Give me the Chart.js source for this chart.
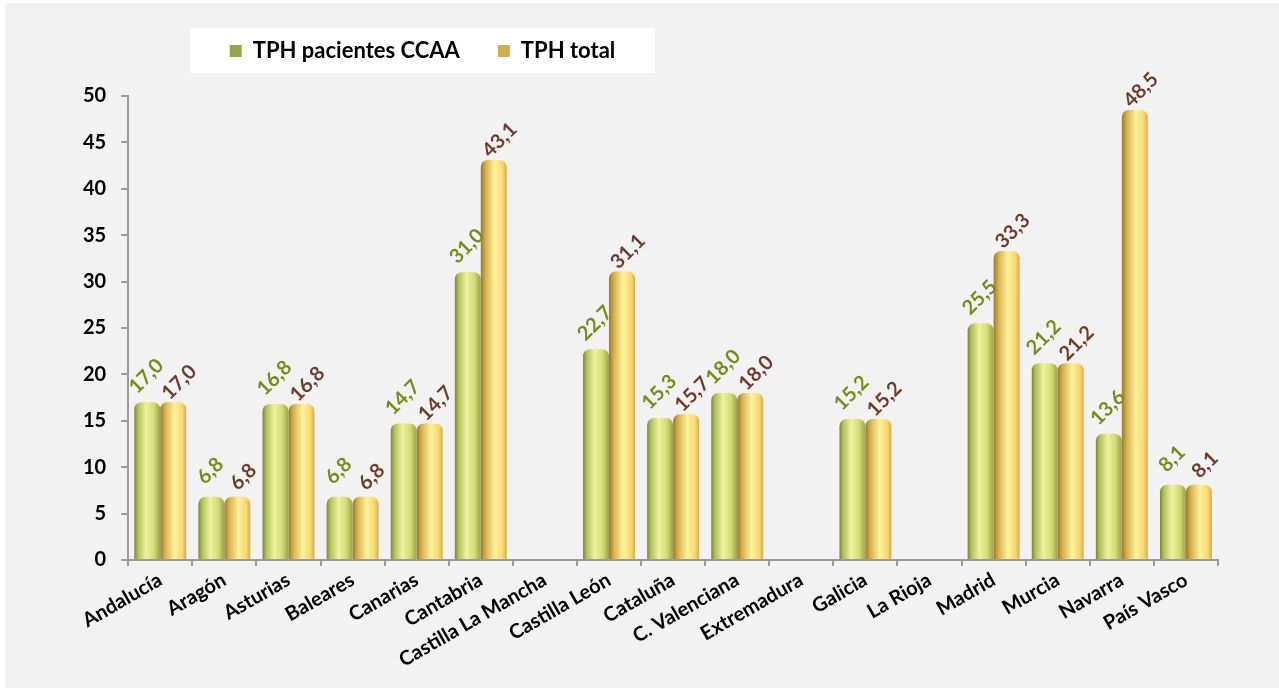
<!DOCTYPE html>
<html>
<head>
<meta charset="utf-8">
<script src="https://cdn.jsdelivr.net/npm/chart.js@4/dist/chart.umd.min.js"></script>
<style>
    body { margin: 0; background: #ffffff; }
    #wrap { position: absolute; left: 5px; top: 3px; width: 1274px; height: 685px; background: #f2f2f2; }
</style>
</head>
<body>
<div id="wrap"><canvas id="chart"></canvas></div>
<script>
const regions = ["Andalucía", "Aragón", "Asturias", "Baleares", "Canarias", "Cantabria",
    "Castilla La Mancha", "Castilla León", "Cataluña", "C. Valenciana", "Extremadura",
    "Galicia", "La Rioja", "Madrid", "Murcia", "Navarra", "País Vasco"];
const tphPacientes = [17.0, 6.8, 16.8, 6.8, 14.7, 31.0, null, 22.7, 15.3, 18.0, null, 15.2, null, 25.5, 21.2, 13.6, 8.1];
const tphTotal = [17.0, 6.8, 16.8, 6.8, 14.7, 43.1, null, 31.1, 15.7, 18.0, null, 15.2, null, 33.3, 21.2, 48.5, 8.1];
const yTicks = [0, 5, 10, 15, 20, 25, 30, 35, 40, 45, 50];

const FONT = "Lato, 'Open Sans', sans-serif";
const CAT_PCT = 0.81;

const greenStops = [[0, "#7b8838"], [0.15, "#b4c15c"], [0.45, "#eaf39b"], [0.75, "#d2dd76"], [1, "#96a44a"]];
const yellowStops = [[0, "#9a7a2e"], [0.2, "#d9b352"], [0.55, "#fff19b"], [0.85, "#f6d76e"], [1, "#d3ad4e"]];

function barGradient(context, stops, fallback, side) {
    const chart = context.chart;
    const xScale = chart.scales.x;
    if (context.dataIndex === undefined || !xScale || !chart.chartArea) return fallback;
    const center = xScale.getPixelForValue(context.dataIndex);
    const cw = (xScale.right - xScale.left) / regions.length;
    const bw = cw * CAT_PCT / 2;
    const left = side === 0 ? center - bw : center;
    const g = chart.ctx.createLinearGradient(left, 0, left + bw, 0);
    for (let s of stops) g.addColorStop(s[0], s[1]);
    return g;
}

function fmt(v) {
    return v.toFixed(1).replace(".", ",");
}

// value labels, rotated like the excel ones
const valueLabels = {
    id: "valueLabels",
    afterDatasetsDraw(chart) {
        const ctx = chart.ctx;
        const styles = [
            { color: "#7a8a1c", dx: -1, dy: 26 },
            { color: "#6e3b2c", dx: 6, dy: 20 },
        ];
        chart.data.datasets.forEach((ds, di) => {
            const meta = chart.getDatasetMeta(di);
            meta.data.forEach((el, i) => {
                const v = ds.data[i];
                if (v === null) return;
                ctx.save();
                ctx.translate(el.x + styles[di].dx, el.y - styles[di].dy);
                ctx.rotate(-45 * Math.PI / 180);
                ctx.font = "bold 20px " + FONT;
                ctx.fillStyle = styles[di].color;
                ctx.textAlign = "center";
                ctx.textBaseline = "middle";
                ctx.fillText(fmt(v), 0, 0);
                ctx.restore();
            });
        });
    },
};

// move the legend into its white box, left of centre
const legendBox = {
    id: "legendBox",
    afterLayout(chart) {
        const lg = chart.legend;
        const h = lg.bottom - lg.top;
        lg.left = 185;
        lg.right = 650;
        lg.width = 465;
        lg.top = -1;
        lg.bottom = -1 + h;
        lg.adjustHitBoxes();
    },
    beforeDraw(chart) {
        const ctx = chart.ctx;
        ctx.save();
        ctx.fillStyle = "#ffffff";
        ctx.fillRect(185, 25, 465, 45);
        ctx.restore();
    },
};

new Chart(document.getElementById("chart"), {
    type: "bar",
    data: {
        labels: regions,
        datasets: [
            {
                label: "TPH pacientes CCAA",
                data: tphPacientes,
                backgroundColor: (c) => barGradient(c, greenStops, "#c8d46c", 0),
                borderRadius: { topLeft: 7, topRight: 7 },
                borderSkipped: "bottom",
                categoryPercentage: CAT_PCT,
                barPercentage: 1,
            },
            {
                label: "TPH total",
                data: tphTotal,
                backgroundColor: (c) => barGradient(c, yellowStops, "#f2d46c", 1),
                borderRadius: { topLeft: 7, topRight: 7 },
                borderSkipped: "bottom",
                categoryPercentage: CAT_PCT,
                barPercentage: 1,
            },
        ],
    },
    options: {
        responsive: true,
        maintainAspectRatio: false,
        animation: false,
        layout: {
            padding: { left: 63, right: 61, top: 23, bottom: 14 },
        },
        plugins: {
            legend: {
                position: "top",
                labels: {
                    color: "#000000",
                    font: { family: FONT, size: 22, weight: "bold" },
                    boxWidth: 12,
                    boxHeight: 12,
                    padding: 38,
                },
            },
            tooltip: { enabled: false },
        },
        scales: {
            x: {
                grid: {
                    display: true,
                    drawOnChartArea: false,
                    offset: true,
                    color: "#9a9a9a",
                    lineWidth: 2,
                    tickLength: 6,
                },
                border: { color: "#9a9a9a", width: 2 },
                ticks: {
                    color: "#000000",
                    font: { family: FONT, size: 20, weight: "bold" },
                    autoSkip: false,
                    minRotation: 30,
                    maxRotation: 30,
                    padding: 2,
                },
            },
            y: {
                min: 0,
                max: 50,
                afterBuildTicks(scale) {
                    scale.ticks = yTicks.map((v) => ({ value: v }));
                },
                grid: {
                    display: true,
                    drawOnChartArea: false,
                    color: "#9a9a9a",
                    lineWidth: 2,
                    tickLength: 7,
                },
                border: { color: "#9a9a9a", width: 2 },
                ticks: {
                    color: "#000000",
                    font: { family: FONT, size: 20, weight: "bold" },
                    padding: 15,
                },
            },
        },
    },
    plugins: [valueLabels, legendBox],
});
</script>
</body>
</html>
